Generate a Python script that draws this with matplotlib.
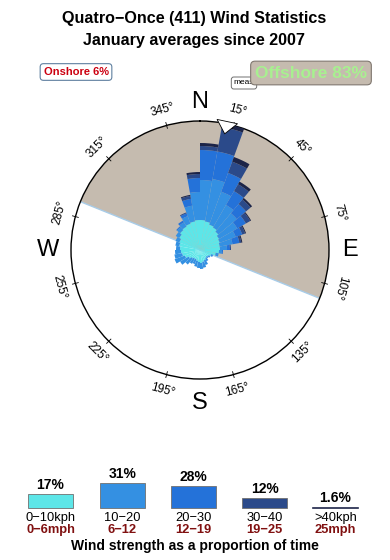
import numpy as np
import matplotlib
matplotlib.use('Agg')
import matplotlib.pyplot as plt
from matplotlib.patches import Rectangle

plt.rcParams['font.family'] = ['Liberation Sans', 'DejaVu Sans']

# wind directions (bin centres, deg) and cumulative rose radii per speed class
directions = np.arange(5, 360, 10)
cum_0_10 = [30, 29, 27, 26, 24, 22, 21, 20, 20, 19, 16, 12, 10, 9, 10, 11, 12, 13,
            12, 11, 10, 10, 11, 13, 16, 18, 19, 20, 21, 22, 24, 26, 27, 28, 29, 30]
cum_10_20 = [70, 72, 62, 52, 48, 43, 38, 33, 27, 22, 19, 14, 12, 11, 13, 16, 18, 19,
             18, 17, 15, 16, 19, 23, 27, 26, 25, 24, 25, 26, 28, 30, 32, 36, 45, 58]
cum_20_30 = [100, 100, 82, 68, 60, 53, 45, 40, 30, 23, 19, 14, 12, 11, 13, 16, 18, 19,
             18, 17, 15, 16, 19, 23, 27, 26, 25, 24, 25, 26, 28, 31, 34, 39, 52, 72]
cum_30_40 = [104, 125, 94, 76, 66, 58, 48, 42, 31, 23, 19, 14, 12, 11, 13, 16, 18, 19,
             18, 17, 15, 16, 19, 23, 27, 26, 25, 24, 25, 26, 28, 31, 34, 40, 55, 76]
cum_40_up = [107, 130, 99, 79, 68, 59, 49, 43, 31, 23, 19, 14, 12, 11, 13, 16, 18, 19,
             18, 17, 15, 16, 19, 23, 27, 26, 25, 24, 25, 26, 28, 31, 34, 40, 56, 78]

speed_kph = ['0\u221210kph', '10\u221220', '20\u221230', '30\u221240', '>40kph']
speed_mph = ['0\u22126mph', '6\u221212', '12\u221219', '19\u221225', '25mph']
speed_pct = [17, 31, 28, 12, 1.6]
pct_labels = ['17%', '31%', '28%', '12%', '1.6%']
colors = ['#5de6e8', '#3490e2', '#2472d9', '#2b4a8a', '#1c2448']

onshore_pct = 6
offshore_pct = 83
offshore_from, offshore_to = 292, 112
mean_dir = 12
tick_angles = np.arange(15, 360, 30)

W, H = 390, 560
fig = plt.figure(figsize=(W / 100, H / 100), dpi=100)

def fx(x):
    return x / W

def fy(y):
    return 1 - y / H

# rose axes
cx, cy, rad = 200, 250, 129
ax = fig.add_axes([fx(cx - rad), fy(cy + rad), 2 * rad / W, 2 * rad / H], projection='polar')
ax.set_theta_zero_location('N')
ax.set_theta_direction(-1)
rmax = 129
ax.set_ylim(0, rmax)
ax.grid(False)
ax.set_xticks([])
ax.set_yticks([])
ax.spines['polar'].set_linewidth(1.0)
ax.set_facecolor('white')

# offshore sector
span = (offshore_to - offshore_from) % 360
mid = np.deg2rad(offshore_from + span / 2)
ax.bar(mid, rmax, width=np.deg2rad(span), bottom=0, color='#c5bbaf', edgecolor='none', zorder=1)
ax.plot([np.deg2rad(offshore_from)] * 2, [0, rmax], color='#a8cce8', lw=1, zorder=2)
ax.plot([np.deg2rad(offshore_to)] * 2, [0, rmax], color='#a8cce8', lw=1, zorder=2)

# stacked rose bars
theta = np.deg2rad(directions)
width = np.deg2rad(10)
layers = [np.array(cum_0_10), np.array(cum_10_20), np.array(cum_20_30),
          np.array(cum_30_40), np.array(cum_40_up)]
bottom = np.zeros(len(directions))
for lay, col in zip(layers, colors):
    ax.bar(theta, lay - bottom, width=width, bottom=bottom, color=col,
           edgecolor='none', zorder=3)
    bottom = lay

# ticks and degree labels
for a in tick_angles:
    t = np.deg2rad(a)
    ax.plot([t, t], [rmax - 3, rmax + 3], color='k', lw=0.6, clip_on=False, zorder=5)
    rot = (-a + 180) % 360 - 180
    if rot > 100:
        rot -= 180
    if rot < -110:
        rot += 180
    ax.text(t, rmax + 16, f'{a}\u00b0', rotation=rot, rotation_mode='anchor',
            ha='center', va='center', fontsize=8.5, clip_on=False)

for lab, a, off in zip(['N', 'E', 'S', 'W'], [0, 90, 180, 270], [19, 21, 24, 23]):
    ax.text(np.deg2rad(a), rmax + off, lab, ha='center', va='center',
            fontsize=17, clip_on=False)

# mean direction arrow
ax.annotate('', xy=(np.deg2rad(mean_dir), rmax - 13), xytext=(np.deg2rad(mean_dir), rmax),
            arrowprops=dict(arrowstyle='simple,head_width=1.5,head_length=0.9,tail_width=0.7',
                            fc='white', ec='k', lw=0.6, mutation_scale=10),
            zorder=6, annotation_clip=False)

# titles
fig.text(fx(194), fy(19), 'Quatro\u2212Once (411) Wind Statistics', ha='center', va='center',
         fontsize=11.6, fontweight='bold')
fig.text(fx(194), fy(41), 'January averages since 2007', ha='center', va='center',
         fontsize=11.6, fontweight='bold')

fig.text(fx(76), fy(72), f'Onshore {onshore_pct}%', ha='center', va='center', fontsize=8,
         fontweight='bold', color='#cc0010',
         bbox=dict(boxstyle='round,pad=0.3', fc='white', ec='#6080a0', lw=0.8))
fig.text(fx(244), fy(83), 'meas', ha='center', va='center', fontsize=6,
         bbox=dict(boxstyle='round,pad=0.3', fc='white', ec='#707070', lw=0.7), zorder=4)
fig.text(fx(311), fy(73), f'Offshore {offshore_pct}%', ha='center', va='center', fontsize=12.5,
         fontweight='bold', color='#a8f090', zorder=5,
         bbox=dict(boxstyle='round,pad=0.25', fc='#c5bbaf', ec='#807870', lw=0.8))

# speed legend
lx = [28, 100, 171, 242, 313]
for i, (pct, col) in enumerate(zip(speed_pct, colors)):
    h = pct * 0.8
    x0 = lx[i]
    if pct >= 5:
        fig.patches.append(Rectangle((fx(x0), fy(508)), 45 / W, h / H, transform=fig.transFigure,
                                     fc=col, ec='#707070', lw=0.6))
    else:
        fig.add_artist(plt.Line2D([fx(x0), fx(x0 + 45)], [fy(508), fy(508)], color=col, lw=1.2))
    fig.text(fx(x0 + 22.5), fy(508 - h - 9), pct_labels[i], ha='center', va='center',
             fontsize=10, fontweight='bold')
    fig.text(fx(x0 + 22.5), fy(518), speed_kph[i], ha='center', va='center', fontsize=9.3)
    fig.text(fx(x0 + 22.5), fy(530), speed_mph[i], ha='center', va='center', fontsize=9.3,
             fontweight='bold', color='#801010')

fig.text(fx(195), fy(546), 'Wind strength as a proportion of time', ha='center', va='center',
         fontsize=10, fontweight='bold')

fig.savefig('out.png', dpi=100)
